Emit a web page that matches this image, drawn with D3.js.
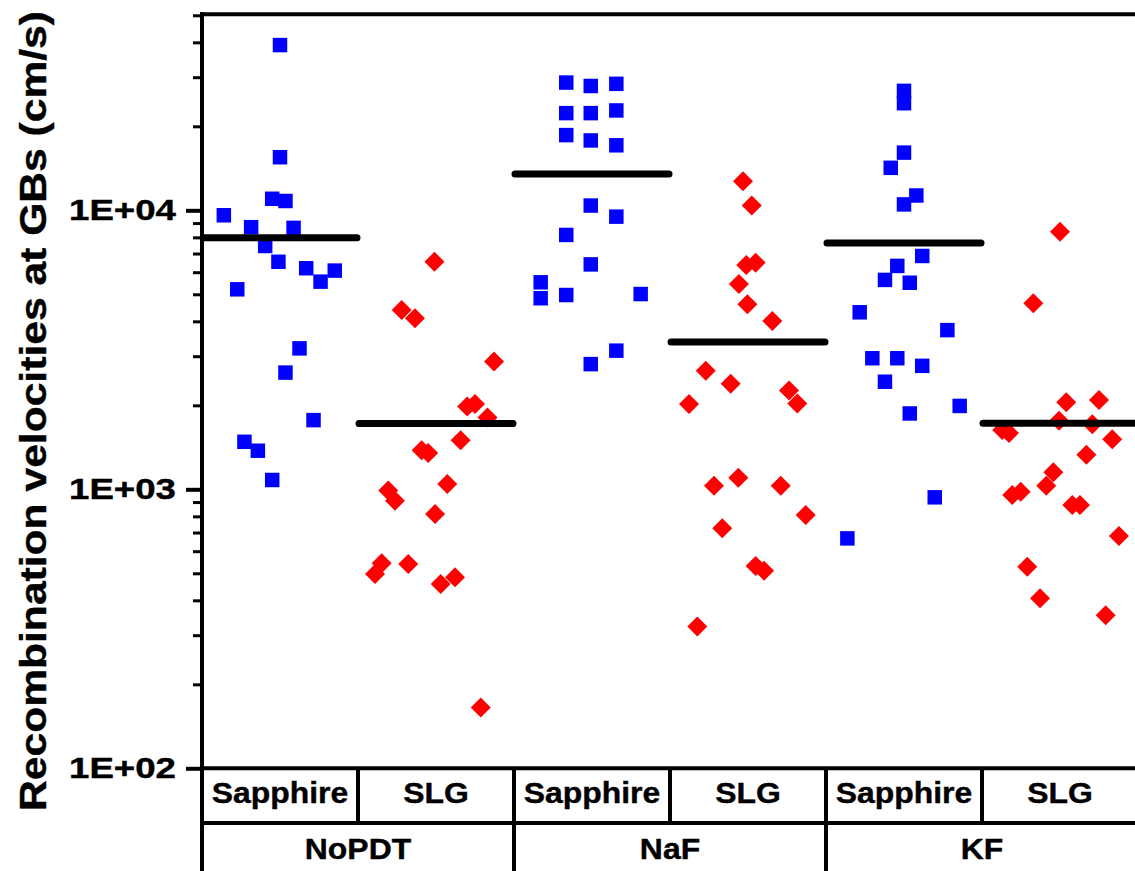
<!DOCTYPE html>
<meta charset="utf-8">
<style>
body { margin: 0; background: #fff; }
text { font-family: "Liberation Sans", Arial, sans-serif; font-weight: bold; fill: #000; stroke: #000; stroke-width: 0.4px; }
</style>
<body>
<script src="https://cdn.jsdelivr.net/npm/d3@7/dist/d3.min.js"></script>
<script>
// categories
var treatments = ["NoPDT", "NaF", "KF"];
var substrates = ["Sapphire", "SLG"];
var yTicks = [100, 1000, 10000];

// each point: [jitter across its column (fraction of column width), velocity in cm/s]
var noPdtSapphire = [[0.00, 39100], [0.00, 15500], [-0.05, 11000], [0.035, 10800], [-0.36, 9600],
  [-0.185, 8700], [0.087, 8650], [-0.095, 7450], [-0.01, 6540], [0.168, 6200], [0.26, 5550],
  [0.351, 6080], [-0.274, 5210], [0.125, 3200], [0.035, 2620], [0.215, 1770], [-0.228, 1480],
  [-0.142, 1375], [-0.05, 1080]];
var noPdtSlg = [[-0.01, 6540], [-0.22, 4390], [-0.135, 4100], [0.372, 2870], [0.2, 1980],
  [0.25, 2020], [0.33, 1810], [0.158, 1500], [-0.092, 1380], [-0.05, 1350], [0.072, 1045],
  [-0.306, 990], [-0.263, 910], [-0.006, 815], [-0.348, 543], [-0.391, 497], [-0.178, 540],
  [0.03, 458], [0.122, 484], [0.287, 165]];
var nafSapphire = [[-0.165, 28700], [-0.008, 27900], [0.156, 28400], [-0.165, 22300], [-0.008, 22300],
  [0.156, 22800], [-0.165, 18600], [-0.008, 17800], [0.156, 17100], [-0.008, 10400], [0.156, 9490],
  [-0.165, 8160], [-0.008, 6400], [-0.329, 5520], [-0.329, 4840], [-0.165, 4970], [0.312, 5010],
  [0.156, 3140], [-0.008, 2810]];
var nafSlg = [[-0.032, 12700], [0.024, 10400], [-0.011, 6370], [0.049, 6490], [-0.058, 5440],
  [-0.004, 4610], [0.156, 4010], [-0.271, 2660], [-0.111, 2390], [-0.378, 2020], [0.263, 2260],
  [0.316, 2030], [-0.218, 1030], [-0.062, 1100], [0.21, 1030], [0.37, 809], [-0.165, 725],
  [0.049, 531], [0.103, 511], [-0.325, 322]];
var kfSapphire = [[0, 26800], [0, 24200], [0, 16100], [-0.085, 14200], [0.079, 11300], [0, 10500],
  [0.117, 6860], [-0.043, 6320], [-0.122, 5630], [0.037, 5500], [-0.284, 4310], [0.278, 3720],
  [-0.203, 2950], [-0.043, 2950], [0.117, 2770], [-0.122, 2430], [0.037, 1870], [0.357, 1990],
  [0.197, 936], [-0.363, 667]];
var kfSlg = [[0, 8380], [-0.171, 4640], [0.04, 2050], [0.25, 2090], [-0.006, 1760], [0.207, 1710],
  [-0.37, 1630], [-0.327, 1590], [0.335, 1510], [0.169, 1330], [-0.043, 1150], [-0.088, 1030],
  [-0.252, 980], [-0.306, 954], [0.079, 878], [0.128, 878], [0.378, 680], [-0.21, 528],
  [-0.128, 407], [0.293, 354]];
// mean of each column
var means = [7980, 1722, 13490, 3375, 7640, 1725];

var series = [noPdtSapphire, noPdtSlg, nafSapphire, nafSlg, kfSapphire, kfSlg];
var columns = [];
treatments.forEach(function(t) { substrates.forEach(function(s) { columns.push(t + "|" + s); }); });

var W = 1135, H = 871;
var plotLeft = 202, plotTop = 15.3, plotBottom = 768.3, plotRight = 1138;

var svg = d3.select("body").append("svg")
    .attr("width", W)
    .attr("height", H);

var x = d3.scaleBand().domain(columns).range([plotLeft, plotRight]).padding(0);
var y = d3.scaleLog().domain([100, 50000]).range([plotBottom, plotTop]);
var bw = x.bandwidth();

// the original font runs wider than Liberation Sans, so stretch texts a bit
function widen(sel, k) {
  sel.each(function() {
    var n = this.getComputedTextLength();
    d3.select(this).attr("textLength", n * k).attr("lengthAdjust", "spacingAndGlyphs");
  });
}

// points
var square = d3.symbol().type(d3.symbolSquare).size(210);
var diamond = d3.symbol().type(d3.symbolSquare).size(200);

series.forEach(function(pts, i) {
  var col = columns[i];
  var isSlg = col.split("|")[1] == "SLG";
  svg.append("g").selectAll("path")
      .data(pts)
    .enter().append("path")
      .attr("d", isSlg ? diamond : square)
      .attr("transform", function(d) {
        return "translate(" + (x(col) + bw / 2 + d[0] * bw) + "," + y(d[1]) + ")" + (isSlg ? " rotate(45)" : "");
      })
      .attr("fill", isSlg ? "#ff0000" : "#0000ff");
});

// mean lines
svg.append("g").selectAll("line")
    .data(means)
  .enter().append("line")
    .attr("x1", function(d, i) { return x(columns[i]) + 1; })
    .attr("x2", function(d, i) { return x(columns[i]) + bw - 1; })
    .attr("y1", function(d) { return y(d); })
    .attr("y2", function(d) { return y(d); })
    .attr("stroke", "#000")
    .attr("stroke-width", 7)
    .attr("stroke-linecap", "round");

// y axis: major ticks with labels
var yAxis = svg.append("g")
    .attr("transform", "translate(" + plotLeft + ",0)")
    .call(d3.axisLeft(y).tickValues(yTicks).tickSize(16).tickSizeOuter(0).tickPadding(10)
      .tickFormat(function(d) { return "1E+0" + Math.round(Math.log10(d)); }));
yAxis.select(".domain").remove();
yAxis.selectAll(".tick line").attr("stroke", "#000").attr("stroke-width", 4);
yAxis.selectAll(".tick text")
    .style("font-family", "'Liberation Sans', Arial, sans-serif")
    .style("font-weight", "bold")
    .style("font-size", "30px")
    .attr("fill", "#000")
    .attr("textLength", 107)
    .attr("lengthAdjust", "spacingAndGlyphs");

// minor ticks
var minor = [];
yTicks.forEach(function(b) {
  for (var k = 2; k <= 9; k++) if (b * k <= 50000) minor.push(b * k);
});
var yMinor = svg.append("g")
    .attr("transform", "translate(" + plotLeft + ",0)")
    .call(d3.axisLeft(y).tickValues(minor).tickSize(9).tickSizeOuter(0).tickFormat(""));
yMinor.select(".domain").remove();
yMinor.selectAll(".tick line").attr("stroke", "#000").attr("stroke-width", 3);

// frame and category table
var frame = svg.append("g").attr("stroke", "#000").attr("stroke-width", 4).attr("fill", "none");
var row1 = 823, row2 = H + 5;
frame.append("line").attr("x1", plotLeft).attr("x2", plotLeft).attr("y1", plotTop - 3).attr("y2", row2);
frame.append("line").attr("x1", plotLeft - 2).attr("x2", plotRight).attr("y1", plotTop - 1).attr("y2", plotTop - 1);
frame.append("line").attr("x1", plotLeft - 2).attr("x2", plotRight).attr("y1", plotBottom).attr("y2", plotBottom);
frame.append("line").attr("x1", plotLeft - 2).attr("x2", plotRight).attr("y1", row1).attr("y2", row1);
columns.forEach(function(c, i) {
  if (i == 0) return;
  frame.append("line")
      .attr("x1", x(c)).attr("x2", x(c))
      .attr("y1", plotBottom).attr("y2", i % 2 == 0 ? row2 : row1);
});

svg.append("g").selectAll("text")
    .data(columns)
  .enter().append("text")
    .attr("x", function(d) { return x(d) + bw / 2; })
    .attr("y", 803)
    .attr("text-anchor", "middle")
    .style("font-size", "29px")
    .text(function(d) { return d.split("|")[1]; })
    .call(widen, 1.1);

svg.append("g").selectAll("text")
    .data(treatments)
  .enter().append("text")
    .attr("x", function(d) { return x(d + "|Sapphire") + bw; })
    .attr("y", 859)
    .attr("text-anchor", "middle")
    .style("font-size", "29px")
    .text(function(d) { return d; })
    .call(widen, 1.1);

// y title
svg.append("text")
    .attr("transform", "rotate(-90)")
    .attr("x", -411)
    .attr("y", 46)
    .attr("text-anchor", "middle")
    .attr("textLength", 800)
    .attr("lengthAdjust", "spacingAndGlyphs")
    .style("font-size", "36px")
    .text("Recombination velocities at GBs (cm/s)");
</script>
</body>
